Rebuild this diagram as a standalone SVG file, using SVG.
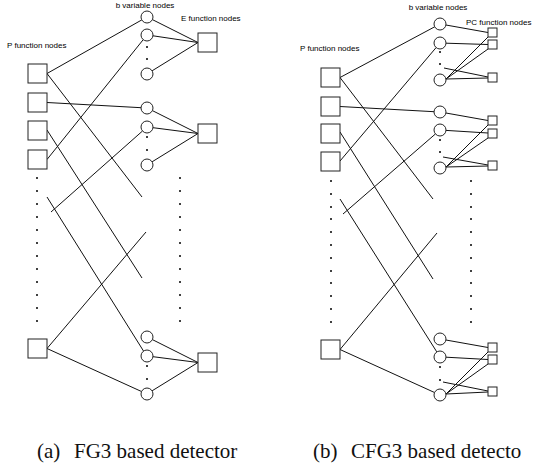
<svg xmlns="http://www.w3.org/2000/svg" width="533" height="472" viewBox="0 0 533 472">
<style>
.ln{stroke:#111;stroke-width:1;fill:none}
.nd{fill:#fff;stroke:#222;stroke-width:1}
.dt{fill:#000}
.lbl{font-family:"Liberation Sans",Arial,sans-serif;font-size:8px;fill:#000}
.cap{font-family:"Liberation Serif","Times New Roman",serif;font-size:21px;fill:#111}
</style>
<rect width="533" height="472" fill="#fff"/>
<g id="connectors">
  <!-- left panel P -> b -->
  <line class="ln" x1="47" y1="73.5" x2="141.8" y2="19.9"/>
  <line class="ln" x1="47" y1="73.5" x2="142" y2="197"/>
  <line class="ln" x1="47" y1="102.5" x2="141" y2="107.7"/>
  <line class="ln" x1="47" y1="130" x2="142" y2="278"/>
  <line class="ln" x1="47" y1="159.5" x2="143.2" y2="39.7"/>
  <line class="ln" x1="47" y1="197" x2="143.5" y2="351"/>
  <line class="ln" x1="51" y1="212" x2="142.5" y2="131"/>
  <line class="ln" x1="47" y1="348.5" x2="146" y2="232"/>
  <line class="ln" x1="47" y1="348.5" x2="141.5" y2="391.5"/>
  <!-- left panel b -> E -->
  <line class="ln" x1="152.4" y1="19.6" x2="198" y2="42.5"/>
  <line class="ln" x1="153" y1="35.8" x2="198" y2="42.5"/>
  <line class="ln" x1="152.1" y1="70.8" x2="198" y2="42.5"/>
  <line class="ln" x1="152.4" y1="110.6" x2="198" y2="133.5"/>
  <line class="ln" x1="153" y1="127.7" x2="198" y2="133.5"/>
  <line class="ln" x1="152.1" y1="161.8" x2="198" y2="133.5"/>
  <line class="ln" x1="152.4" y1="339.6" x2="198" y2="362.5"/>
  <line class="ln" x1="153" y1="356.7" x2="198" y2="362.5"/>
  <line class="ln" x1="152.1" y1="390.8" x2="198" y2="362.5"/>
  <!-- right panel P -> b -->
  <line class="ln" x1="340" y1="77.5" x2="434.7" y2="26.8"/>
  <line class="ln" x1="340" y1="77.5" x2="433" y2="199"/>
  <line class="ln" x1="340" y1="106.5" x2="434" y2="111.7"/>
  <line class="ln" x1="340" y1="132" x2="433" y2="279"/>
  <line class="ln" x1="340" y1="161" x2="436.1" y2="47.6"/>
  <line class="ln" x1="340" y1="199" x2="436.8" y2="351.9"/>
  <line class="ln" x1="343" y1="214" x2="435.5" y2="133.9"/>
  <line class="ln" x1="340" y1="349.5" x2="437" y2="233"/>
  <line class="ln" x1="340" y1="349.5" x2="434.5" y2="392.5"/>
  <!-- right panel b -> PC, group 1 -->
  <line class="ln" x1="445.9" y1="25" x2="488" y2="32.5"/>
  <line class="ln" x1="446" y1="43.2" x2="488" y2="44.5"/>
  <line class="ln" x1="446" y1="79" x2="488" y2="37"/>
  <line class="ln" x1="446" y1="79" x2="488" y2="49"/>
  <line class="ln" x1="446" y1="79" x2="488" y2="78"/>
  <line class="ln" x1="444" y1="68" x2="488" y2="77"/>
  <!-- group 2 -->
  <line class="ln" x1="445.9" y1="113" x2="488" y2="120.5"/>
  <line class="ln" x1="446" y1="130.4" x2="488" y2="133"/>
  <line class="ln" x1="446" y1="167" x2="488" y2="125"/>
  <line class="ln" x1="446" y1="167" x2="488" y2="138"/>
  <line class="ln" x1="446" y1="167" x2="488" y2="166"/>
  <line class="ln" x1="443" y1="157" x2="488" y2="165"/>
  <!-- group 3 -->
  <line class="ln" x1="445.9" y1="340" x2="488" y2="347.5"/>
  <line class="ln" x1="446" y1="357.2" x2="488" y2="359.5"/>
  <line class="ln" x1="446" y1="394" x2="488" y2="352"/>
  <line class="ln" x1="446" y1="394" x2="488" y2="364"/>
  <line class="ln" x1="446" y1="394" x2="488" y2="392"/>
  <line class="ln" x1="443" y1="382" x2="488" y2="391"/>
</g>
<g id="left-P-nodes">
  <rect id="aP1" class="nd" x="28" y="64" width="19" height="19"/>
  <rect id="aP2" class="nd" x="28" y="93" width="19" height="19"/>
  <rect id="aP3" class="nd" x="28" y="121" width="19" height="19"/>
  <rect id="aP4" class="nd" x="28" y="150" width="19" height="19"/>
  <rect id="aP5" class="nd" x="28" y="339" width="19" height="19"/>
</g>
<g id="left-b-nodes">
  <circle id="ab1" class="nd" cx="147" cy="17" r="6"/>
  <circle id="ab2" class="nd" cx="147" cy="35" r="6"/>
  <circle id="ab3" class="nd" cx="147" cy="74" r="6"/>
  <circle id="ab4" class="nd" cx="147" cy="108" r="6"/>
  <circle id="ab5" class="nd" cx="147" cy="127" r="6"/>
  <circle id="ab6" class="nd" cx="147" cy="165" r="6"/>
  <circle id="ab7" class="nd" cx="147" cy="337" r="6"/>
  <circle id="ab8" class="nd" cx="147" cy="356" r="6"/>
  <circle id="ab9" class="nd" cx="147" cy="394" r="6"/>
</g>
<g id="left-E-nodes">
  <rect id="aE1" class="nd" x="198" y="33" width="19" height="19"/>
  <rect id="aE2" class="nd" x="198" y="124" width="19" height="19"/>
  <rect id="aE3" class="nd" x="198" y="353" width="19" height="19"/>
</g>
<g id="left-dots" class="dt">
  <circle cx="147" cy="47" r="1"/><circle cx="147" cy="59" r="1"/>
  <circle cx="147" cy="137" r="1"/><circle cx="147" cy="150" r="1"/>
  <circle cx="147" cy="366" r="1"/><circle cx="147" cy="379" r="1"/>
  <circle cx="37" cy="178" r="1"/><circle cx="37" cy="191" r="1"/><circle cx="37" cy="204" r="1"/><circle cx="37" cy="217" r="1"/><circle cx="37" cy="230" r="1"/><circle cx="37" cy="243" r="1"/><circle cx="37" cy="256" r="1"/><circle cx="37" cy="269" r="1"/><circle cx="37" cy="282" r="1"/><circle cx="37" cy="295" r="1"/><circle cx="37" cy="308" r="1"/><circle cx="37" cy="321" r="1"/>
  <circle cx="180" cy="178" r="1"/><circle cx="180" cy="191" r="1"/><circle cx="180" cy="204" r="1"/><circle cx="180" cy="217" r="1"/><circle cx="180" cy="230" r="1"/><circle cx="180" cy="243" r="1"/><circle cx="180" cy="256" r="1"/><circle cx="180" cy="269" r="1"/><circle cx="180" cy="282" r="1"/><circle cx="180" cy="295" r="1"/><circle cx="180" cy="308" r="1"/><circle cx="180" cy="321" r="1"/>
</g>
<g id="right-P-nodes">
  <rect id="bP1" class="nd" x="321" y="68" width="19" height="19"/>
  <rect id="bP2" class="nd" x="321" y="97" width="19" height="19"/>
  <rect id="bP3" class="nd" x="321" y="124" width="19" height="19"/>
  <rect id="bP4" class="nd" x="321" y="152" width="19" height="19"/>
  <rect id="bP5" class="nd" x="321" y="340" width="19" height="19"/>
</g>
<g id="right-b-nodes">
  <circle id="bb1" class="nd" cx="440" cy="24" r="6"/>
  <circle id="bb2" class="nd" cx="440" cy="43" r="6"/>
  <circle id="bb3" class="nd" cx="440" cy="80" r="6"/>
  <circle id="bb4" class="nd" cx="440" cy="112" r="6"/>
  <circle id="bb5" class="nd" cx="440" cy="130" r="6"/>
  <circle id="bb6" class="nd" cx="440" cy="168" r="6"/>
  <circle id="bb7" class="nd" cx="440" cy="339" r="6"/>
  <circle id="bb8" class="nd" cx="440" cy="357" r="6"/>
  <circle id="bb9" class="nd" cx="440" cy="395" r="6"/>
</g>
<g id="right-PC-nodes">
  <rect id="pc1" class="nd" x="488" y="28" width="9" height="9"/>
  <rect id="pc2" class="nd" x="488" y="40" width="9" height="9"/>
  <rect id="pc3" class="nd" x="488" y="73" width="9" height="9"/>
  <rect id="pc4" class="nd" x="488" y="116" width="9" height="9"/>
  <rect id="pc5" class="nd" x="488" y="129" width="9" height="9"/>
  <rect id="pc6" class="nd" x="488" y="161" width="9" height="9"/>
  <rect id="pc7" class="nd" x="488" y="343" width="9" height="9"/>
  <rect id="pc8" class="nd" x="488" y="355" width="9" height="9"/>
  <rect id="pc9" class="nd" x="488" y="387" width="9" height="9"/>
</g>
<g id="right-dots" class="dt">
  <circle cx="440" cy="52" r="1"/><circle cx="440" cy="64" r="1"/>
  <circle cx="440" cy="140" r="1"/><circle cx="440" cy="152" r="1"/>
  <circle cx="440" cy="367" r="1"/><circle cx="440" cy="380" r="1"/>
  <circle cx="331" cy="181" r="1"/><circle cx="331" cy="194" r="1"/><circle cx="331" cy="207" r="1"/><circle cx="331" cy="219" r="1"/><circle cx="331" cy="232" r="1"/><circle cx="331" cy="245" r="1"/><circle cx="331" cy="258" r="1"/><circle cx="331" cy="271" r="1"/><circle cx="331" cy="283" r="1"/><circle cx="331" cy="296" r="1"/><circle cx="331" cy="309" r="1"/><circle cx="331" cy="322" r="1"/>
  <circle cx="471" cy="181" r="1"/><circle cx="471" cy="194" r="1"/><circle cx="471" cy="207" r="1"/><circle cx="471" cy="219" r="1"/><circle cx="471" cy="232" r="1"/><circle cx="471" cy="245" r="1"/><circle cx="471" cy="258" r="1"/><circle cx="471" cy="271" r="1"/><circle cx="471" cy="283" r="1"/><circle cx="471" cy="296" r="1"/><circle cx="471" cy="309" r="1"/><circle cx="471" cy="322" r="1"/>
</g>
<g id="labels">
  <text class="lbl" x="145" y="8" text-anchor="middle">b variable nodes</text>
  <text class="lbl" x="181" y="21">E function nodes</text>
  <text class="lbl" x="7" y="48">P function nodes</text>
  <text class="lbl" x="438" y="10" text-anchor="middle">b variable nodes</text>
  <text class="lbl" x="466" y="25">PC function nodes</text>
  <text class="lbl" x="300" y="51">P function nodes</text>
  <text class="cap" y="458"><tspan x="37">(a)</tspan><tspan x="74">FG3 based detector</tspan></text>
  <text class="cap" y="458"><tspan x="313">(b)</tspan><tspan x="351">CFG3 based detecto</tspan></text>
</g>
</svg>
